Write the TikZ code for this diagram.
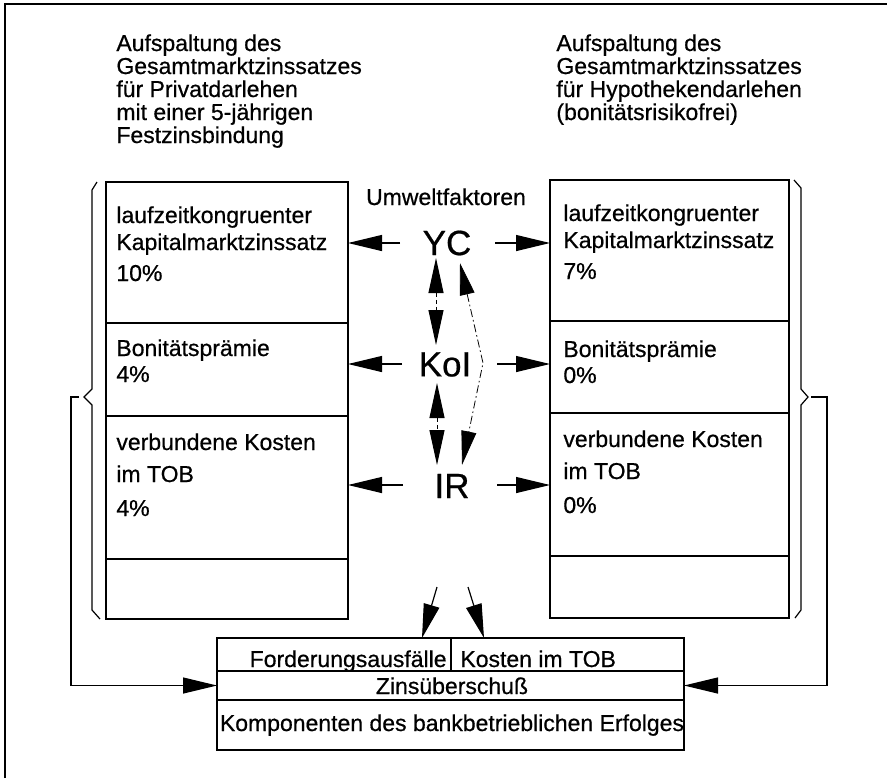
\documentclass[tikz,border=0pt]{standalone}
\usepackage{fontspec}
\setmainfont{Liberation Sans}[FakeBold=0.6]
\usetikzlibrary{arrows.meta}
\begin{document}
\begin{tikzpicture}[x=0.5pt,y=-0.5pt,
  txt/.style={inner sep=0pt, anchor=base west, font=\fontsize{11.5}{13}\selectfont},
  ctxt/.style={inner sep=0pt, anchor=base, font=\fontsize{11.5}{13}\selectfont},
  big/.style={inner sep=0pt, font=\fontsize{17.5}{20}\selectfont},
  cell/.style={draw, line width=0.75pt, inner sep=0pt, outer sep=0pt, anchor=north west},
  arr/.style={line width=0.6pt, -{Triangle[length=17pt,width=8pt]}},
  darr/.style={line width=0.5pt, dash pattern=on 2pt off 1.5pt,
     {Triangle[length=17.5pt,width=7.5pt]}-{Triangle[length=17.5pt,width=7.5pt]}},
  barr/.style={line width=0.4pt, dash pattern=on 4pt off 1.5pt on 0.8pt off 1.5pt,
     {Triangle[length=16pt,width=7.5pt]}-{Triangle[length=17pt,width=7.5pt]}},
  brace/.style={line width=0.6pt},
]
\useasboundingbox (0,0) rectangle (887,778);
% outer frame (top and left only)
\draw[line width=1pt] (5,778) -- (5,4) -- (887,4);

% titles
\node[txt] (tl1) at (116,51) {Aufspaltung des};
\node[txt] (tl2) at (116,74) {Gesamtmarktzinssatzes};
\node[txt] (tl3) at (116,97) {für Privatdarlehen};
\node[txt] (tl4) at (116,120) {mit einer 5-jährigen};
\node[txt] (tl5) at (116,143) {Festzinsbindung};
\node[txt] (tr1) at (556,51) {Aufspaltung des};
\node[txt] (tr2) at (556,74) {Gesamtmarktzinssatzes};
\node[txt] (tr3) at (556,97) {für Hypothekendarlehen};
\node[txt] (tr4) at (556,120) {(bonitätsrisikofrei)};

% left column boxes
\node[cell, minimum width=121pt, minimum height=70.5pt] (L1) at (106,182) {};
\node[cell, minimum width=121pt, minimum height=46.5pt] (L2) at (106,323) {};
\node[cell, minimum width=121pt, minimum height=71.5pt] (L3) at (106,416) {};
\node[cell, minimum width=121pt, minimum height=30pt] (L4) at (106,559) {};
% right column boxes
\node[cell, minimum width=119.5pt, minimum height=70.5pt] (R1) at (550,180) {};
\node[cell, minimum width=119.5pt, minimum height=46pt] (R2) at (550,321) {};
\node[cell, minimum width=119.5pt, minimum height=71.5pt] (R3) at (550,413) {};
\node[cell, minimum width=119.5pt, minimum height=31pt] (R4) at (550,556) {};

% left texts
\node[txt] (l1a) at (116,223) {laufzeitkongruenter};
\node[txt] (l1b) at (116,250) {Kapitalmarktzinssatz};
\node[txt] (l1c) at (116,281) {10\%};
\node[txt] (l2a) at (116,356) {Bonitätsprämie};
\node[txt] (l2b) at (116,382) {4\%};
\node[txt] (l3a) at (116,450) {verbundene Kosten};
\node[txt] (l3b) at (116,482) {im TOB};
\node[txt] (l3c) at (116,516) {4\%};
% right texts
\node[txt] (r1a) at (563,221) {laufzeitkongruenter};
\node[txt] (r1b) at (563,248) {Kapitalmarktzinssatz};
\node[txt] (r1c) at (563,279) {7\%};
\node[txt] (r2a) at (563,357) {Bonitätsprämie};
\node[txt] (r2b) at (563,383) {0\%};
\node[txt] (r3a) at (563,447) {verbundene Kosten};
\node[txt] (r3b) at (563,479) {im TOB};
\node[txt] (r3c) at (563,513) {0\%};

% centre
\node[ctxt] (uw) at (446,205) {Umweltfaktoren};
\node[big] (YC) at (447,243) {YC};
\node[big] (KoI) at (445,364.5) {KoI};
\node[big] (IR) at (452,486) {IR};

\coordinate (ycL) at (400,243);
\coordinate (ycR) at (495,243);
\coordinate (koiL) at (402,364);
\coordinate (koiR) at (497,364);
\coordinate (irL) at (403,485);
\coordinate (irR) at (497,485);
\draw[arr] (ycL) -- (ycL -| L1.east);
\draw[arr] (ycR) -- (ycR -| R1.west);
\draw[arr] (koiL) -- (koiL -| L2.east);
\draw[arr] (koiR) -- (koiR -| R2.west);
\draw[arr] (irL) -- (irL -| L3.east);
\draw[arr] (irR) -- (irR -| R3.west);

\coordinate (a1) at (436,258);
\coordinate (a2) at (436,345);
\coordinate (b1) at (437,383);
\coordinate (b2) at (437,465);
\draw[darr] (a1) -- (a2);
\draw[darr] (b1) -- (b2);
\coordinate (c1) at (460,263);
\coordinate (c2) at (483,363);
\coordinate (c3) at (462,465);
\draw[barr] (c1) -- (c2) -- (c3);

% bottom box
\node[cell, minimum width=117pt, minimum height=16.5pt] (B1a) at (217,638) {};
\node[cell, minimum width=116.5pt, minimum height=16.5pt] (B1b) at (451,638) {};
\node[cell, minimum width=233.5pt, minimum height=14.5pt] (B2) at (217,671) {};
\node[cell, minimum width=233.5pt, minimum height=25pt] (B3) at (217,700) {};
\node[txt, anchor=base east] (fa) at (447,667) {Forderungsausfälle};
\node[txt] (kt) at (460,667) {Kosten im TOB};
\node[ctxt] (zu) at (452,694) {Zinsüberschuß};
\node[ctxt] (kb) at (452,731) {Komponenten des bankbetrieblichen Erfolges};

\coordinate (d1) at (437,587);
\coordinate (d1e) at (422,638);
\coordinate (d2) at (468,587);
\coordinate (d2e) at (484,638);
\draw[arr] (d1) -- (d1e);
\draw[arr] (d2) -- (d2e);

% braces
\draw[brace] (97,182) -- (92,190) -- (92,389) -- (84,397) -- (92,405) -- (92,610) -- (100,619);
\draw[brace] (794,180) -- (801,188) -- (801,389) -- (808,397) -- (801,405) -- (801,610) -- (795,618);
\coordinate (lnib) at (79,397);
\coordinate (rnib) at (811,397);
\draw[arr] (lnib) -- (71,397) |- (B2.west);
\draw[arr] (rnib) -- (827,397) |- (B2.east);
\end{tikzpicture}
\end{document}
